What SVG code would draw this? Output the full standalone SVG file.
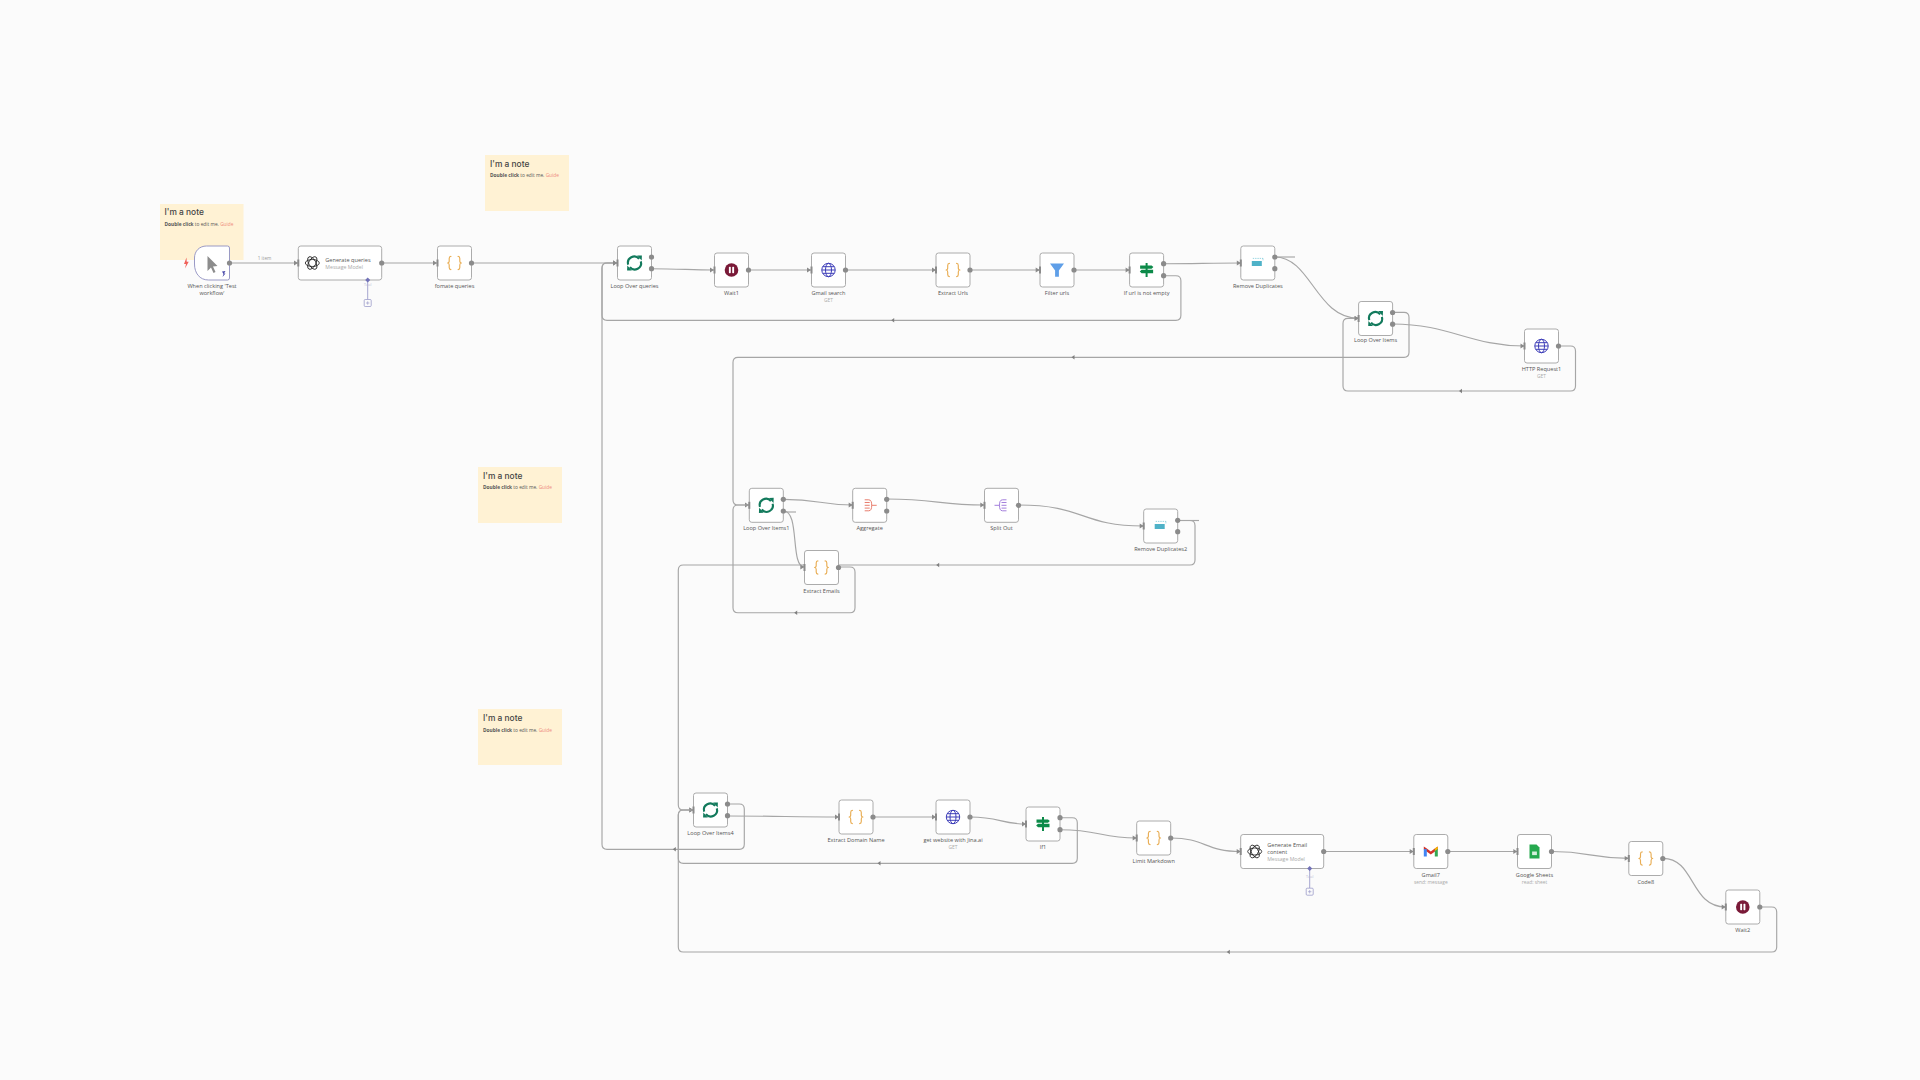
<svg xmlns="http://www.w3.org/2000/svg" width="1920" height="1080" viewBox="0 0 1920 1080">
<style>
text{font-family:"Open Sans","Liberation Sans",sans-serif}
.node{fill:#fff;stroke:#a3a3a3;stroke-width:.9}
.port{fill:#8b8b8b}
.in{fill:#8b8b8b}
.lbl{font-size:5.6px;fill:#555;text-anchor:middle}
.sub{font-size:4.9px;fill:#aaa;text-anchor:middle}
.ltx{font-size:5.6px;fill:#555}
.lsb{font-size:5.2px;fill:#aaa}
.edge{fill:none;stroke:#a6a6a6;stroke-width:1.15;stroke-linejoin:round}
.note{fill:#fff2d4}
.nt{font-family:Inter,"Open Sans",sans-serif;font-size:8.4px;fill:#444;font-weight:500}
.nb{font-size:4.8px;fill:#555}
.tool{fill:none;stroke:#8f8fc4;stroke-width:.8}
.tl{font-size:3.6px;fill:#b4b4d4;text-anchor:middle}
</style>
<defs>
<marker id="ah" markerUnits="userSpaceOnUse" markerWidth="6" markerHeight="6" refX="4.5" refY="3" orient="auto"><polygon points="0.5,0.6 4.5,3 0.5,5.4" fill="#8b8b8b"/></marker>
<g id="mid"><polygon points="-1.5,0 1.5,-2.2 1.5,2.2" fill="#7f7f7f"/></g>
<g id="i-code" fill="none" stroke="#e9ae55" stroke-width="1.15" stroke-linecap="round" stroke-linejoin="round"><path d="M-3.6,-6.6Q-5.3,-6.6 -5.3,-4.6V-2Q-5.3,0 -6.9,0Q-5.3,0 -5.3,2V4.6Q-5.3,6.6 -3.6,6.6"/><path d="M3.6,-6.6Q5.3,-6.6 5.3,-4.6V-2Q5.3,0 6.9,0Q5.3,0 5.3,2V4.6Q5.3,6.6 3.6,6.6"/></g>
<g id="i-loop"><g fill="none" stroke="#127a5c" stroke-width="2.1"><path d="M-6.3,1.6A6.3,6.3 0 0 1 4.6,-4.2"/><path d="M6.3,-1.6A6.3,6.3 0 0 1 -4.6,4.2"/></g><polygon points="2.6,-7.4 7.4,-7.6 7.2,-2.4" fill="#127a5c"/><polygon points="-2.6,7.4 -7.4,7.6 -7.2,2.4" fill="#127a5c"/></g>
<g id="i-pause"><circle r="6.8" fill="#7a1a38"/><rect x="-2.6" y="-3.2" width="1.9" height="6.4" rx=".6" fill="#fff"/><rect x=".7" y="-3.2" width="1.9" height="6.4" rx=".6" fill="#fff"/></g>
<g id="i-globe" fill="none" stroke="#3c3cb8" stroke-width="1"><circle r="6.7"/><ellipse rx="3" ry="6.7"/><path d="M-6.7,0H6.7M-5.8,-3.3H5.8M-5.8,3.3H5.8"/></g>
<g id="i-filter"><polygon points="-7,-6.5 7,-6.5 1.9,0.5 1.9,6.8 -1.9,6.8 -1.9,0.5" fill="#5f9fe8"/></g>
<g id="i-if" fill="#0c8a49"><rect x="-1" y="-7" width="2" height="14"/><polygon points="-6.5,-4.6 5,-4.6 6.8,-3 5,-1.2 -6.5,-1.2"/><polygon points="6.5,-0.2 -5,-0.2 -6.8,1.6 -5,3.2 6.5,3.2"/></g>
<g id="i-dedup"><rect x="-5" y="-2" width="10" height="5" fill="#4fb2c8"/><path d="M-4,-4.6H6.2M6.2,-4.6V-2" fill="none" stroke="#6fc4d6" stroke-width=".7" stroke-dasharray="1.4 .9"/></g>
<g id="i-agg" fill="none" stroke="#e56f5d" stroke-width=".9"><path d="M-5,-5.5H-1C1.5,-5.5 2,-3 2,0C2,3 1.5,5.5 -1,5.5H-5"/><path d="M-5,-2.8H0M-5,0H0M-5,2.8H0"/><path d="M2,0H7"/></g>
<g id="i-split" fill="none" stroke="#9a72d8" stroke-width=".9"><path d="M5,-5.5H1C-1.5,-5.5 -2,-3 -2,0C-2,3 -1.5,5.5 1,5.5H5"/><path d="M5,-2.8H0M5,0H0M5,2.8H0"/><path d="M-2,0H-7"/></g>
<g id="i-oai" fill="none" stroke="#222" stroke-width=".85"><ellipse rx="7" ry="3.5"/><ellipse rx="7" ry="3.5" transform="rotate(60)"/><ellipse rx="7" ry="3.5" transform="rotate(120)"/></g>
<g id="i-gmail"><polygon points="-7,-5 -4,-3 0,0 4,-3 7,-5 7,-2 0,3 -7,-2" fill="#d3342b"/><rect x="-7" y="-2.4" width="3" height="7.4" fill="#4285f4"/><rect x="4" y="-2.4" width="3" height="7.4" fill="#34a853"/><polygon points="4,-3 7,-5 7,-2.4 4,-.4" fill="#f6b704"/></g>
<g id="i-sheet"><path d="M-5,-7H2L5,-4V7H-5Z" fill="#26a94f"/><rect x="-2.4" y="0" width="4.8" height="3.6" fill="#d5f0dc"/></g>
<g id="i-plus"><rect x="-3.5" y="-3.5" width="7" height="7" rx="1" fill="#fbfbfb" stroke="#8f8fc4" stroke-width=".7"/><path d="M-1.7,0H1.7M0,-1.7V1.7" stroke="#8f8fc4" stroke-width=".6"/></g>
</defs>
<rect width="1920" height="1080" fill="#fbfbfb"/>

<g id="note-1"><rect class="note" x="160" y="204" width="83.5" height="56"/><text class="nt" x="164.5" y="215">I'm a note</text><text class="nb" x="164.5" y="226"><tspan font-weight="700">Double click</tspan> to edit me. <tspan fill="#ee8a7c">Guide</tspan></text></g>
<g id="note-2"><rect class="note" x="485" y="155" width="84" height="56"/><text class="nt" x="490" y="167">I'm a note</text><text class="nb" x="490" y="177"><tspan font-weight="700">Double click</tspan> to edit me. <tspan fill="#ee8a7c">Guide</tspan></text></g>
<g id="note-3"><rect class="note" x="478" y="467" width="84" height="56"/><text class="nt" x="483" y="479">I'm a note</text><text class="nb" x="483" y="488.5"><tspan font-weight="700">Double click</tspan> to edit me. <tspan fill="#ee8a7c">Guide</tspan></text></g>
<g id="note-4"><rect class="note" x="478" y="709" width="84" height="56"/><text class="nt" x="483" y="721">I'm a note</text><text class="nb" x="483" y="731.5"><tspan font-weight="700">Double click</tspan> to edit me. <tspan fill="#ee8a7c">Guide</tspan></text></g>

<g id="connectors">
<path class="edge" marker-end="url(#ah)" d="M229.5,263H298"/>
<path class="edge" marker-end="url(#ah)" d="M381.7,263H437"/>
<path class="edge" marker-end="url(#ah)" d="M471.7,263H617"/>
<path class="edge" marker-end="url(#ah)" d="M651.7,268.7C680,268.7 690,270 714,270"/>
<path class="edge" marker-end="url(#ah)" d="M748.7,270H811"/>
<path class="edge" marker-end="url(#ah)" d="M845.7,270H936"/>
<path class="edge" marker-end="url(#ah)" d="M970.3,270H1039.7"/>
<path class="edge" marker-end="url(#ah)" d="M1074,270H1129.6"/>
<path class="edge" marker-end="url(#ah)" d="M1163.6,263.7C1195,263.7 1210,263 1240.8,263"/>
<path class="edge" marker-end="url(#ah)" d="M1163.6,275.7H1175.9Q1180.9,275.7 1180.9,280.7V315.3Q1180.9,320.3 1175.9,320.3H607Q602,320.3 602,315.3V268Q602,263 607,263H617"/>
<path class="edge" marker-end="url(#ah)" d="M727.7,804H739.3Q744.3,804 744.3,809V844.3Q744.3,849.3 739.3,849.3H607Q602,849.3 602,844.3V268Q602,263 607,263H617"/>
<path class="edge" d="M1274.8,257H1295"/>
<path class="edge" marker-end="url(#ah)" d="M1274.8,257C1311,257 1316,318.3 1358.6,318.3"/>
<path class="edge" marker-end="url(#ah)" d="M1392.6,312.3H1404Q1409,312.3 1409,317.3V352.3Q1409,357.3 1404,357.3H738Q733,357.3 733,362.3V500Q733,505 738,505H749"/>
<path class="edge" marker-end="url(#ah)" d="M1392.6,324C1450,324 1470,346 1524.5,346"/>
<path class="edge" marker-end="url(#ah)" d="M1558.5,346H1570.5Q1575.5,346 1575.5,351V386Q1575.5,391 1570.5,391H1348Q1343,391 1343,386V323.3Q1343,318.3 1348,318.3H1358.6"/>
<path class="edge" marker-end="url(#ah)" d="M783.7,499.3C820,499.3 820,505 852.7,505"/>
<path class="edge" d="M783.7,512H796"/>
<path class="edge" marker-end="url(#ah)" d="M783.7,511C800,511 790,567 804.3,567"/>
<path class="edge" marker-end="url(#ah)" d="M887,499C935,499 940,505 984.3,505"/>
<path class="edge" marker-end="url(#ah)" d="M1018.7,505C1085,505 1080,526 1143.7,526"/>
<path class="edge" d="M1178,520.5H1199"/>
<path class="edge" marker-end="url(#ah)" d="M1178,520.5H1190Q1195,520.5 1195,525.5V560Q1195,565 1190,565H683.3Q678.3,565 678.3,570V805Q678.3,810 683.3,810H693.3"/>
<path class="edge" d="M838.7,567H850Q855,567 855,572V607.7Q855,612.7 850,612.7H738Q733,612.7 733,607.7V510Q733,505 738,505H749"/>
<path class="edge" marker-end="url(#ah)" d="M727.7,816C780,816 790,817 839,817"/>
<path class="edge" marker-end="url(#ah)" d="M873.3,817H936"/>
<path class="edge" marker-end="url(#ah)" d="M970.3,817C1000,817 1000,824 1026,824"/>
<path class="edge" marker-end="url(#ah)" d="M1060,817.7H1072.3Q1077.3,817.7 1077.3,822.7V858.3Q1077.3,863.3 1072.3,863.3H683.3Q678.3,863.3 678.3,858.3V815Q678.3,810 683.3,810H693.3"/>
<path class="edge" marker-end="url(#ah)" d="M1060,829.7C1100,829.7 1100,838 1136.7,838"/>
<path class="edge" marker-end="url(#ah)" d="M1171,838C1205,838 1205,851.5 1240.7,851.5"/>
<path class="edge" marker-end="url(#ah)" d="M1323.7,851.5H1413.7"/>
<path class="edge" marker-end="url(#ah)" d="M1448,851.5H1517.3"/>
<path class="edge" marker-end="url(#ah)" d="M1552,851.5C1590,851.5 1590,858.3 1628.7,858.3"/>
<path class="edge" marker-end="url(#ah)" d="M1663,858.3C1695,858.3 1690,907 1725.7,907"/>
<path class="edge" d="M1760,907H1771.7Q1776.7,907 1776.7,912V947Q1776.7,952 1771.7,952H683.3Q678.3,952 678.3,947V815Q678.3,810 683.3,810H693.3"/>
<use href="#mid" x="892.7" y="320.3"/>
<use href="#mid" x="1073" y="357.3"/>
<use href="#mid" x="1460.5" y="391"/>
<use href="#mid" x="795.7" y="612.7"/>
<use href="#mid" x="937.7" y="565"/>
<use href="#mid" x="674.3" y="849.3"/>
<use href="#mid" x="879" y="863.3"/>
<use href="#mid" x="1228.3" y="952"/>
<text x="264.5" y="260" font-size="4.6" fill="#999" text-anchor="middle">1 item</text>
<path class="tool" d="M367.7,280V299.5"/>
<path class="tool" d="M1309.7,869V888"/>
</g>

<g id="n-trigger" transform="translate(194.5,246)"><path d="M12,0H33Q35,0 35,2V32Q35,34 33,34H14C5,34 0,27 0,18V12C0,5 5,0 12,0Z" fill="#fff" stroke="#8f8fc0" stroke-width=".9"/><polygon points="13,10 13,25 16.5,21.5 19,27 21,26 18.5,20.5 23,20" fill="#8c8c8c"/><polygon points="31,25 27.5,25.5 29,28 28,31 31,27.5 29.5,27.5" fill="#4747a8"/><circle class="port" cx="35" cy="17" r="2.6"/><polygon points="-8,11.5 -10.5,18 -8.5,18 -9.5,22.5 -5.8,15.8 -7.8,15.8" fill="#f0605a"/><text class="lbl" x="17.5" y="42">When clicking 'Test</text><text class="lbl" x="17.5" y="49">workflow'</text></g>

<g id="n-gen-queries" transform="translate(298.3,246)"><rect class="node" width="83.4" height="34" rx="2.5"/><use href="#i-oai" x="14" y="17"/><text class="ltx" x="27" y="16">Generate queries</text><text class="lsb" x="27" y="23">Message Model</text><rect class="in" x="-1" y="13.5" width="2" height="7"/><circle class="port" cx="83.4" cy="17" r="2.6"/><polygon points="69.4,31.5 71.9,34 69.4,36.5 66.9,34" fill="#7272b8"/><text class="tl" x="69.4" y="40">Tool</text><use href="#i-plus" x="69.4" y="57"/></g>

<g id="n-format" transform="translate(437.5,246)"><rect class="node" width="34" height="34" rx="2.5"/><use href="#i-code" x="17" y="17"/><rect class="in" x="-1" y="13.5" width="2" height="7"/><circle class="port" cx="34" cy="17" r="2.6"/><text class="lbl" x="17" y="42">fomate queries</text></g>

<g id="n-loop-queries" transform="translate(617.5,246)"><rect class="node" width="34" height="34" rx="2.5"/><use href="#i-loop" x="17" y="17"/><rect class="in" x="-1" y="13.5" width="2" height="7"/><circle class="port" cx="34" cy="11" r="2.6"/><circle class="port" cx="34" cy="22.7" r="2.6"/><text class="lbl" x="17" y="42">Loop Over queries</text></g>

<g id="n-wait1" transform="translate(714.5,253)"><rect class="node" width="34" height="34" rx="2.5"/><use href="#i-pause" x="17" y="17"/><rect class="in" x="-1" y="13.5" width="2" height="7"/><circle class="port" cx="34" cy="17" r="2.6"/><text class="lbl" x="17" y="42">Wait1</text></g>

<g id="n-gmail-search" transform="translate(811.5,253)"><rect class="node" width="34" height="34" rx="2.5"/><use href="#i-globe" x="17" y="17"/><rect class="in" x="-1" y="13.5" width="2" height="7"/><circle class="port" cx="34" cy="17" r="2.6"/><text class="lbl" x="17" y="42">Gmail search</text><text class="sub" x="17" y="49">GET</text></g>

<g id="n-extract-urls" transform="translate(936,253)"><rect class="node" width="34" height="34" rx="2.5"/><use href="#i-code" x="17" y="17"/><rect class="in" x="-1" y="13.5" width="2" height="7"/><circle class="port" cx="34" cy="17" r="2.6"/><text class="lbl" x="17" y="42">Extract Urls</text></g>

<g id="n-filter" transform="translate(1040,253)"><rect class="node" width="34" height="34" rx="2.5"/><use href="#i-filter" x="17" y="17"/><rect class="in" x="-1" y="13.5" width="2" height="7"/><circle class="port" cx="34" cy="17" r="2.6"/><text class="lbl" x="17" y="42">Filter urls</text></g>

<g id="n-if-url" transform="translate(1129.6,253)"><rect class="node" width="34" height="34" rx="2.5"/><use href="#i-if" x="17" y="17"/><rect class="in" x="-1" y="13.5" width="2" height="7"/><circle class="port" cx="34" cy="10.7" r="2.6"/><circle class="port" cx="34" cy="22.7" r="2.6"/><text class="lbl" x="17" y="42">If url is not empty</text></g>

<g id="n-dedup" transform="translate(1240.8,246)"><rect class="node" width="34" height="34" rx="2.5"/><use href="#i-dedup" x="16" y="17"/><rect class="in" x="-1" y="13.5" width="2" height="7"/><circle class="port" cx="34" cy="11" r="2.6"/><circle class="port" cx="34" cy="22.7" r="2.6"/><text class="lbl" x="17" y="42">Remove Duplicates</text></g>

<g id="n-loop-items" transform="translate(1358.6,301.5)"><rect class="node" width="34" height="34" rx="2.5"/><use href="#i-loop" x="17" y="17"/><rect class="in" x="-1" y="13.5" width="2" height="7"/><circle class="port" cx="34" cy="11" r="2.6"/><circle class="port" cx="34" cy="22.7" r="2.6"/><text class="lbl" x="17" y="40.5">Loop Over Items</text></g>

<g id="n-http" transform="translate(1524.5,329)"><rect class="node" width="34" height="34" rx="2.5"/><use href="#i-globe" x="17" y="17"/><rect class="in" x="-1" y="13.5" width="2" height="7"/><circle class="port" cx="34" cy="17" r="2.6"/><text class="lbl" x="17" y="42">HTTP Request1</text><text class="sub" x="17" y="49">GET</text></g>

<g id="n-loop-items1" transform="translate(749.3,488.3)"><rect class="node" width="34" height="34" rx="2.5"/><use href="#i-loop" x="17" y="17"/><rect class="in" x="-1" y="13.5" width="2" height="7"/><circle class="port" cx="34" cy="11" r="2.6"/><circle class="port" cx="34" cy="22.7" r="2.6"/><text class="lbl" x="17" y="42">Loop Over Items1</text></g>

<g id="n-aggregate" transform="translate(852.7,488.3)"><rect class="node" width="34" height="34" rx="2.5"/><use href="#i-agg" x="17" y="17"/><rect class="in" x="-1" y="13.5" width="2" height="7"/><circle class="port" cx="34" cy="11" r="2.6"/><circle class="port" cx="34" cy="22.7" r="2.6"/><text class="lbl" x="17" y="42">Aggregate</text></g>

<g id="n-split" transform="translate(984.5,488.3)"><rect class="node" width="34" height="34" rx="2.5"/><use href="#i-split" x="17" y="17"/><rect class="in" x="-1" y="13.5" width="2" height="7"/><circle class="port" cx="34" cy="17" r="2.6"/><text class="lbl" x="17" y="42">Split Out</text></g>

<g id="n-dedup2" transform="translate(1143.7,509)"><rect class="node" width="34" height="34" rx="2.5"/><use href="#i-dedup" x="16" y="17"/><rect class="in" x="-1" y="13.5" width="2" height="7"/><circle class="port" cx="34" cy="11.3" r="2.6"/><circle class="port" cx="34" cy="22.7" r="2.6"/><text class="lbl" x="17" y="42">Remove Duplicates2</text></g>

<g id="n-extract-emails" transform="translate(804.5,550.5)"><rect class="node" width="34" height="34" rx="2.5"/><use href="#i-code" x="17" y="17"/><rect class="in" x="-1" y="13.5" width="2" height="7"/><circle class="port" cx="34" cy="17" r="2.6"/><text class="lbl" x="17" y="42">Extract Emails</text></g>

<g id="n-loop-items4" transform="translate(693.5,793)"><rect class="node" width="34" height="34" rx="2.5"/><use href="#i-loop" x="17" y="17"/><rect class="in" x="-1" y="13.5" width="2" height="7"/><circle class="port" cx="34" cy="11" r="2.6"/><circle class="port" cx="34" cy="22.7" r="2.6"/><text class="lbl" x="17" y="42">Loop Over Items4</text></g>

<g id="n-domain" transform="translate(839,800)"><rect class="node" width="34" height="34" rx="2.5"/><use href="#i-code" x="17" y="17"/><rect class="in" x="-1" y="13.5" width="2" height="7"/><circle class="port" cx="34" cy="17" r="2.6"/><text class="lbl" x="17" y="42">Extract Domain Name</text></g>

<g id="n-jina" transform="translate(936,800)"><rect class="node" width="34" height="34" rx="2.5"/><use href="#i-globe" x="17" y="17"/><rect class="in" x="-1" y="13.5" width="2" height="7"/><circle class="port" cx="34" cy="17" r="2.6"/><text class="lbl" x="17" y="42">get website with Jina.ai</text><text class="sub" x="17" y="49">GET</text></g>

<g id="n-if1" transform="translate(1026,807)"><rect class="node" width="34" height="34" rx="2.5"/><use href="#i-if" x="17" y="17"/><rect class="in" x="-1" y="13.5" width="2" height="7"/><circle class="port" cx="34" cy="10.7" r="2.6"/><circle class="port" cx="34" cy="22.7" r="2.6"/><text class="lbl" x="17" y="42">If1</text></g>

<g id="n-limit" transform="translate(1136.7,821)"><rect class="node" width="34" height="34" rx="2.5"/><use href="#i-code" x="17" y="17"/><rect class="in" x="-1" y="13.5" width="2" height="7"/><circle class="port" cx="34" cy="17" r="2.6"/><text class="lbl" x="17" y="42">Limit Markdown</text></g>

<g id="n-gen-email" transform="translate(1240.7,834.5)"><rect class="node" width="83" height="34" rx="2.5"/><use href="#i-oai" x="14" y="17"/><text class="ltx" x="26.5" y="12.5">Generate Email</text><text class="ltx" x="26.5" y="19.5">content</text><text class="lsb" x="26.5" y="26.5">Message Model</text><rect class="in" x="-1" y="13.5" width="2" height="7"/><circle class="port" cx="83" cy="17" r="2.6"/><polygon points="69,31.5 71.5,34 69,36.5 66.5,34" fill="#7272b8"/><text class="tl" x="69" y="43">Tool</text><use href="#i-plus" x="69" y="57.2"/></g>

<g id="n-gmail" transform="translate(1413.8,834.5)"><rect class="node" width="34" height="34" rx="2.5"/><use href="#i-gmail" x="17" y="17"/><rect class="in" x="-1" y="13.5" width="2" height="7"/><circle class="port" cx="34" cy="17" r="2.6"/><text class="lbl" x="17" y="42.5">Gmail7</text><text class="sub" x="17" y="49.5">send: message</text></g>

<g id="n-sheets" transform="translate(1517.5,834.5)"><rect class="node" width="34" height="34" rx="2.5"/><use href="#i-sheet" x="17" y="17"/><rect class="in" x="-1" y="13.5" width="2" height="7"/><circle class="port" cx="34" cy="17" r="2.6"/><text class="lbl" x="17" y="42.5">Google Sheets</text><text class="sub" x="17" y="49.5">read: sheet</text></g>

<g id="n-code8" transform="translate(1628.8,841.5)"><rect class="node" width="34" height="34" rx="2.5"/><use href="#i-code" x="17" y="17"/><rect class="in" x="-1" y="13.5" width="2" height="7"/><circle class="port" cx="34" cy="17" r="2.6"/><text class="lbl" x="17" y="42.5">Code8</text></g>

<g id="n-wait2" transform="translate(1725.8,890)"><rect class="node" width="34" height="34" rx="2.5"/><use href="#i-pause" x="17" y="17"/><rect class="in" x="-1" y="13.5" width="2" height="7"/><circle class="port" cx="34" cy="17" r="2.6"/><text class="lbl" x="17" y="42">Wait2</text></g>
</svg>
